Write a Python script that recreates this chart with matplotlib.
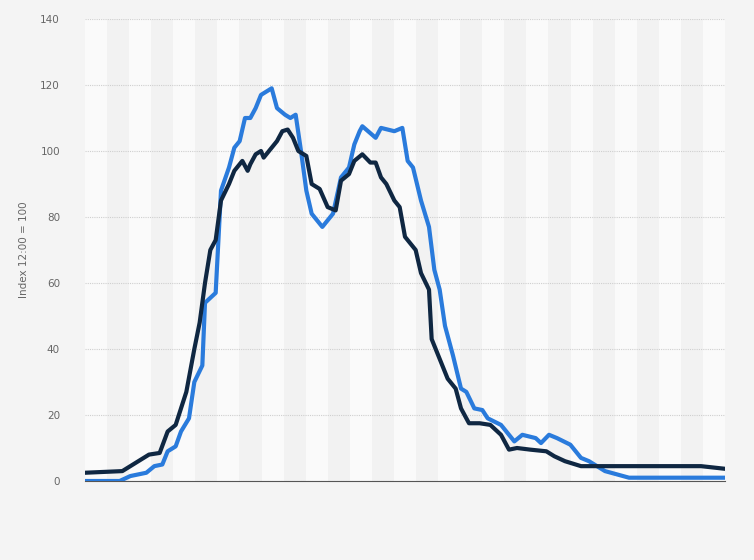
import matplotlib
matplotlib.use('Agg')
import matplotlib.pyplot as plt

# hours of day and index values
dark_hours = [0, 1.4, 1.7, 2.1, 2.4, 2.8, 3.1, 3.4, 3.6, 3.8, 4.1, 4.3, 4.5, 4.7, 4.9, 5.1,
              5.4, 5.6, 5.9, 6.1, 6.2, 6.4, 6.6, 6.7, 6.9, 7.2, 7.4, 7.6, 7.8, 8.0, 8.3, 8.5,
              8.8, 9.1, 9.4, 9.6, 9.9, 10.1, 10.4, 10.7, 10.9, 11.1, 11.3, 11.6, 11.8, 12.0,
              12.4, 12.6, 12.9, 13.0, 13.3, 13.6, 13.9, 14.1, 14.4, 14.8, 15.2, 15.6, 15.9,
              16.2, 16.7, 17.3, 17.6, 18.0, 18.6, 19.3, 20.8, 23.1, 24.0]
dark_values = [2.5, 3, 4.5, 6.5, 8, 8.5, 15, 17, 22, 27, 40, 48, 60, 70, 73, 85,
               90, 94, 97, 94, 96, 99, 100, 98, 100, 103, 106, 106.5, 104, 100, 98.5, 90,
               88.5, 83, 82, 91, 93, 97, 99, 96.5, 96.5, 92, 90, 85, 83, 74,
               70, 63, 58, 43, 37, 31, 28, 22, 17.5, 17.5, 17, 14, 9.5,
               10, 9.5, 9, 7.5, 6, 4.5, 4.5, 4.5, 4.5, 3.7]

blue_hours = [0, 1.3, 1.7, 2.3, 2.6, 2.9, 3.1, 3.4, 3.6, 3.9, 4.1, 4.4, 4.5, 4.9, 5.1, 5.4,
              5.6, 5.8, 6.0, 6.2, 6.4, 6.6, 7.0, 7.2, 7.5, 7.7, 7.9, 8.1, 8.3, 8.5, 8.9, 9.3,
              9.6, 9.8, 9.9, 10.1, 10.3, 10.4, 10.9, 11.1, 11.6, 11.9, 12.1, 12.3, 12.6, 12.9,
              13.1, 13.3, 13.5, 13.8, 14.1, 14.3, 14.6, 14.9, 15.1, 15.6, 16.1, 16.4, 16.9,
              17.1, 17.4, 17.7, 18.2, 18.6, 18.9, 19.5, 20.4, 24.0]
blue_values = [0, 0, 1.5, 2.5, 4.5, 5, 9, 10.5, 15, 19, 30, 35, 54, 57, 88, 95,
               101, 103, 110, 110, 113, 117, 119, 113, 111, 110, 111, 100, 88, 81, 77, 81,
               92, 94, 95, 102, 106, 107.5, 104, 107, 106, 107, 97, 95, 85, 77,
               64, 58, 47, 38, 28, 27, 22, 21.5, 19, 17, 12, 14, 13,
               11.5, 14, 13, 11, 7, 6, 3, 1, 1]

n_bands = 29

fig = plt.figure(figsize=(7.54, 5.6), dpi=100)
fig.patch.set_facecolor('#f4f4f4')
ax = fig.add_axes([85 / 754, 79 / 560, 640 / 754, 462 / 560])
ax.set_facecolor('#f7f7f7')

# alternating background columns
band_w = 24.0 / n_bands
for i in range(n_bands):
    ax.axvspan(i * band_w, (i + 1) * band_w, color='#fafafa' if i % 2 == 0 else '#f2f2f2',
               lw=0, zorder=0)

ax.plot(blue_hours, blue_values, color='#2a7bdc', lw=3, zorder=3, solid_joinstyle='round')
ax.plot(dark_hours, dark_values, color='#0f2742', lw=3, zorder=4, solid_joinstyle='round')

ax.set_xlim(0, 24)
ax.set_ylim(0, 140)
ax.set_yticks(range(0, 141, 20))
ax.set_xticks([])
ax.grid(axis='y', color='#cfcfcf', ls=(0, (1, 1)), lw=0.8, zorder=1)
ax.set_axisbelow(True)
for side in ['top', 'right', 'left']:
    ax.spines[side].set_visible(False)
ax.spines['bottom'].set_color('#555555')
ax.tick_params(axis='y', length=0, labelsize=7.5, labelcolor='#666666', pad=18)
ax.set_ylabel('Index 12:00 = 100', fontsize=7.5, color='#666666', labelpad=8)

plt.savefig('out.png', dpi=100, facecolor=fig.get_facecolor())
